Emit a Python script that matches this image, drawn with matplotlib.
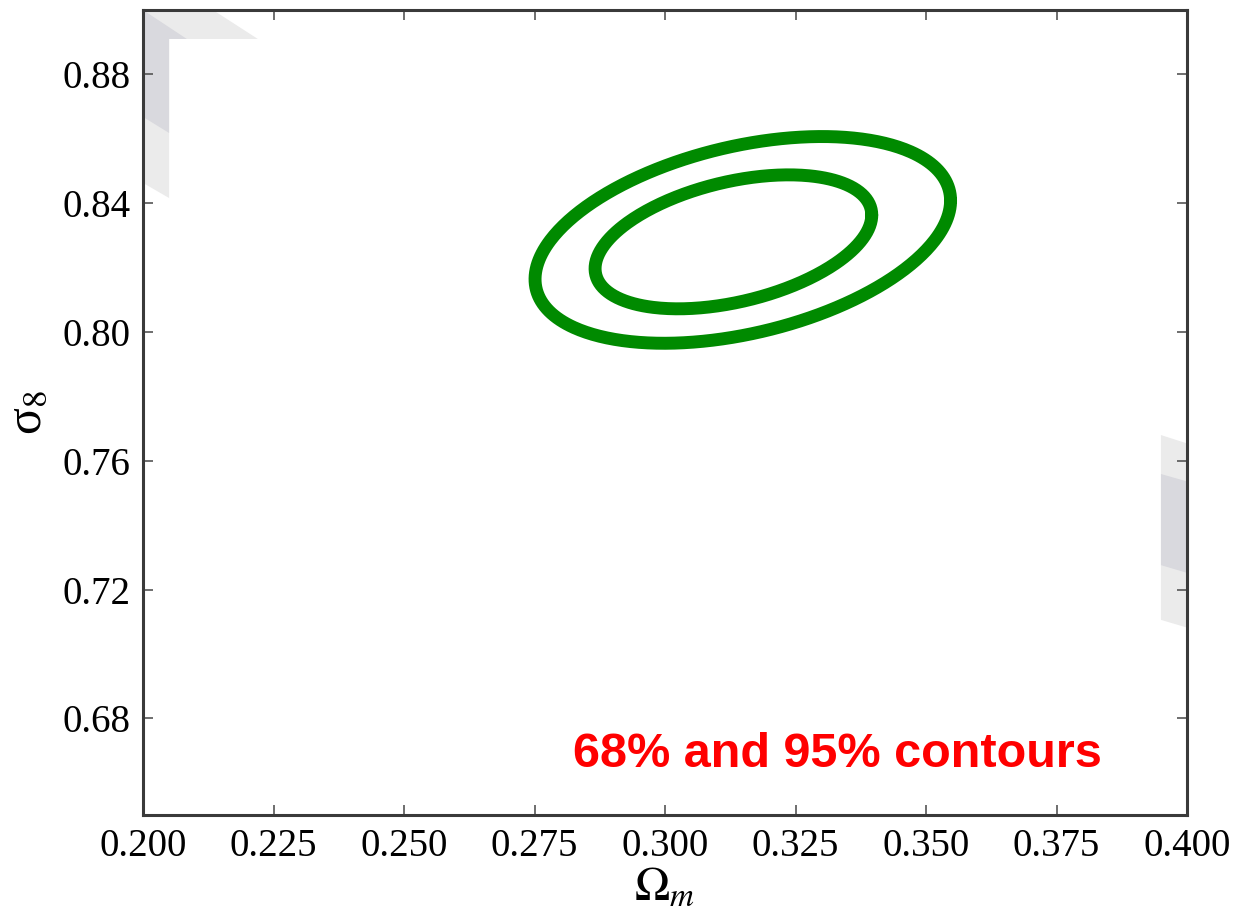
import numpy as np
from matplotlib import pyplot as plt

plt.rcParams['font.family'] = ['Liberation Serif', 'DejaVu Serif']
plt.rcParams['mathtext.fontset'] = 'stix'

# contour ellipses: centre, half-width in Omega_m, half-height in sigma_8, correlation
contour_names = ["95%", "68%"]
centre_om = [0.3149, 0.3131]
centre_s8 = [0.8286, 0.8280]
half_om = [0.0398, 0.0265]
half_s8 = [0.0321, 0.0208]
corr = [0.38, 0.40]

# leftover grey patches near the frame (Omega_m, sigma_8 vertices)
grey_light_tl_x = [0.2, 0.2134, 0.2220, 0.2050, 0.2050, 0.2]
grey_light_tl_y = [0.9, 0.9, 0.8910, 0.8910, 0.8416, 0.8463]
grey_dark_tl_x = [0.2, 0.2084, 0.2050, 0.2050, 0.2]
grey_dark_tl_y = [0.9, 0.8910, 0.8910, 0.8618, 0.8668]
grey_light_r_x = [0.395, 0.4, 0.4, 0.395]
grey_light_r_y = [0.7680, 0.7654, 0.7082, 0.7106]
grey_dark_r_x = [0.395, 0.4, 0.4, 0.395]
grey_dark_r_y = [0.7559, 0.7536, 0.7252, 0.7276]

x_ticks = [0.200, 0.225, 0.250, 0.275, 0.300, 0.325, 0.350, 0.375, 0.400]
y_ticks = [0.68, 0.72, 0.76, 0.80, 0.84, 0.88]


def main():
  fig = plt.figure(figsize=(12.49, 9.08), dpi=100)
  ax = fig.add_axes([0.1145, 0.1024, 0.8359, 0.8866])

  light = "#ebebeb"
  dark = "#d9d9de"
  ax.fill(grey_light_tl_x, grey_light_tl_y, color=light, lw=0)
  ax.fill(grey_dark_tl_x, grey_dark_tl_y, color=dark, lw=0)
  ax.fill(grey_light_r_x, grey_light_r_y, color=light, lw=0)
  ax.fill(grey_dark_r_x, grey_dark_r_y, color=dark, lw=0)

  t = np.linspace(0, 2 * np.pi, 400)
  for i in range(len(contour_names)):
    xs = centre_om[i] + half_om[i] * np.cos(t)
    ys = centre_s8[i] + half_s8[i] * (corr[i] * np.cos(t)
                                      + np.sqrt(1 - corr[i] ** 2) * np.sin(t))
    ax.plot(xs, ys, color="#008a00", lw=9.3, solid_capstyle="round")

  ax.text(0.2824, 0.6649, "68% and 95% contours", color="#ff0000",
          fontsize=35, fontweight="bold", family=["Liberation Sans", "DejaVu Sans"],
          va="baseline", ha="left")

  ax.set_xlim(0.2, 0.4)
  ax.set_ylim(0.65, 0.90)
  ax.set_xticks(x_ticks)
  ax.set_xticklabels(["%.3f" % v for v in x_ticks])
  ax.set_yticks(y_ticks)
  ax.set_yticklabels(["%.2f" % v for v in y_ticks])
  ax.tick_params(direction="in", length=7, width=1.2, color="#555555",
                 labelsize=28, pad=9, top=True, right=True)
  for s in ax.spines.values():
    s.set_linewidth(2.2)
    s.set_color("#3a3a3a")

  ax.set_xlabel(r"$\Omega_m$", fontsize=34, labelpad=2)
  ax.set_ylabel(r"σ$_8$", fontsize=36, labelpad=8)

  fig.savefig("out.png", dpi=100)


if __name__ == "__main__":
  main()
